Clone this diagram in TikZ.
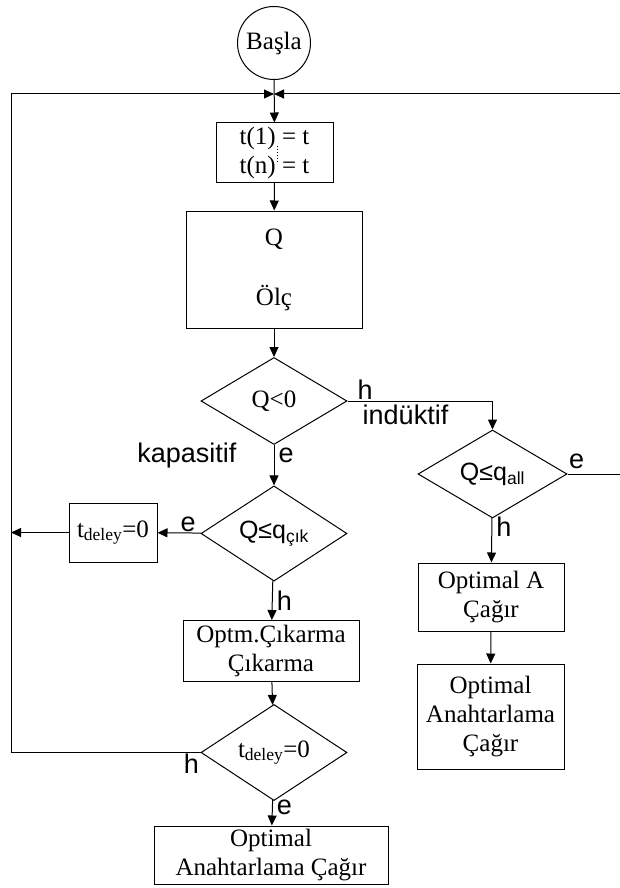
\documentclass[tikz,border=0pt]{standalone}
\usepackage{fontspec}
\setmainfont{Liberation Serif}
\setsansfont{Liberation Sans}
\usetikzlibrary{arrows.meta,shapes.geometric}

\begin{document}
\begin{tikzpicture}[x=1pt,y=-1pt,line width=1pt,
        >={Triangle[length=10pt,width=9pt]},
        font=\fontsize{25}{29}\selectfont]
        \tikzstyle{box}=[draw,rectangle,align=center,inner sep=2pt]
        \tikzstyle{decision}=[draw,diamond,inner sep=0pt,minimum width=146pt,minimum height=87pt]
        \tikzstyle{lbl}=[font=\fontsize{27}{31}\selectfont\sffamily,inner sep=1pt]

        \useasboundingbox (0,0) rectangle (620,888);

        \node[draw,circle,minimum size=73pt,inner sep=0pt] (basla) at (274,43) {Başla};
        \coordinate (m)   at (274,94);
        \coordinate (lft) at (11,94);
        \coordinate (rgt) at (620,94);
        \node[box,minimum width=117pt,minimum height=59pt] (tbox) at (274.5,152.5) {t(1) = t\\t(n) = t};
        \draw[dash pattern=on 1pt off 2pt] (277,146) -- (277,164); % dots
        \node[box,minimum width=176pt,minimum height=117pt] (qbox) at (274,269.5) {Q\\[31pt]Ölç};
        \node[decision] (dq)    at (274,401)   {Q<0};
        \node[decision] (dcik)  at (274,533.5) {\sffamily Q≤q\textsubscript{çık}};
        \node[box,minimum width=88pt,minimum height=59pt] (tdel) at (113,532.5) {t\textsubscript{deley}=0};
        \node[box,minimum width=176pt,minimum height=61pt] (optm) at (271,651) {Optm.Çıkarma\\Çıkarma};
        \node[decision] (dtd)   at (274,752.5) {t\textsubscript{deley}=0};
        \node[box,minimum width=234pt,minimum height=58pt] (final) at (271,855) {Optimal\\Anahtarlama Çağır};
        \node[decision,minimum width=149pt,minimum height=88pt] (dqall) at (492.5,474) {\sffamily Q≤q\textsubscript{all}}; % induktif
        \node[box,minimum width=146pt,minimum height=68pt] (oa)  at (491,597) {Optimal A\\Çağır};
        \node[box,minimum width=147pt,minimum height=105pt] (oan) at (490.5,716.5) {Optimal\\Anahtarlama\\Çağır};

        \path[->]
                  (basla) edge (tbox)
                  (tbox)  edge (qbox)
                  (qbox)  edge (dq)
                  (dq)    edge node[lbl,pos=0.25,right=3pt] {e}
                               node[lbl,pos=0.25,left=36pt] {kapasitif} (dcik)
                  (dcik)  edge node[lbl,pos=0.3,above] {e} (tdel)
                          edge node[lbl,pos=0.5,right=3pt] {h} (optm)
                  (optm)  edge (dtd)
                  (dtd)   edge node[lbl,pos=0.3,right=3pt] {e} (final)
                  (dqall) edge node[lbl,pos=0.2,right=3pt] {h} (oa)
                  (oa)    edge (oan);

        \draw[->] (dq.east) -| node[lbl,pos=0.03,above right] {h}
                               node[lbl,pos=0.2,below,yshift=-2pt] {indüktif} (dqall.north);
        \draw[->] (tdel.west) -- (tdel.west -| lft);
        \draw[->] (dtd.west) node[lbl,below left] {h} -- (dtd.west -| lft) -- (lft) -- (m);
        \draw[->] (dqall.east) node[lbl,above right,yshift=4pt] {e} -- (dqall.east -| rgt) -- (rgt) -- (m);
\end{tikzpicture}
\end{document}
